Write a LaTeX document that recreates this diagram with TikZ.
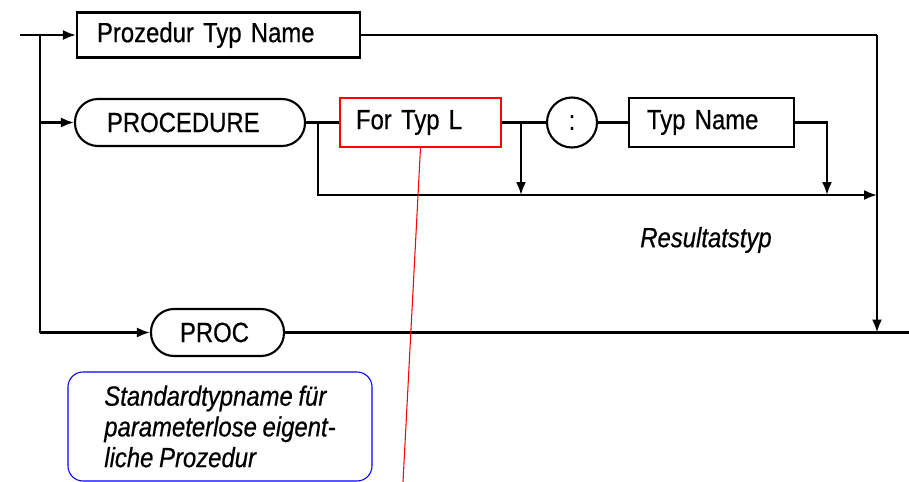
\documentclass[tikz,border=0pt]{standalone}
\usepackage{fontspec}
\setmainfont{Liberation Sans}[FakeStretch=0.86, WordSpace=0.86, FakeBold=0.5]
\usetikzlibrary{arrows.meta,positioning}

\begin{document}
\begin{tikzpicture}[line width=1.2pt,
  every node/.style={font=\fontsize{15.8}{17}\selectfont},
  term/.style={draw, rectangle, inner ysep=0pt, align=left},
  keyw/.style={draw, rectangle, rounded corners=0.46cm, minimum height=0.94cm, inner ysep=0pt, align=left},
  tip/.style={-{Latex[length=0.26cm,width=0.2cm]}}]
  \useasboundingbox (0,0) rectangle (18.18,-9.64);

  % Rails
  \def\xl{0.8}
  \def\xr{17.54}
  \def\yr{-3.9}

  % Boxes
  \node[term, text width=4.86cm, inner xsep=0.4cm, minimum height=0.9cm] (pname) at (4.37,-0.70) {Prozedur Typ Name};
  \node[keyw, text width=3.32cm, inner xsep=0.64cm] (procedure) at (3.8,-2.45) {PROCEDURE};
  \node[term, draw=red, line width=0.8pt, text width=2.58cm, inner xsep=0.32cm, minimum height=0.98cm] (fortyp) at (8.41,-2.45) {For Typ L};
  \node[circle, draw, minimum size=1.0cm, inner sep=0pt] (colon) at (11.44,-2.45) {:};
  \node[term, text width=2.58cm, inner xsep=0.36cm, minimum height=0.98cm] (typname) at (14.23,-2.45) {Typ Name};
  \node[keyw, text width=1.5cm, inner xsep=0.58cm] (proc) at (4.35,-6.65) {PROC};

  % Labels
  \node[font=\fontsize{15.8}{17}\selectfont\itshape] (restyp) at (14.12,-4.8) {Resultatstyp};
  \node[draw=blue, line width=0.6pt, rounded corners=0.3cm, minimum width=6.08cm,
        minimum height=2.18cm, align=left, font=\fontsize{15.8}{17.5}\selectfont\itshape] (note) at (4.4,-8.53)
        {Standardtypname für\\parameterlose eigent-\\liche Prozedur};

  % Junctions
  \coordinate (start) at (0.4,-0.70);
  \coordinate (lsplit) at (\xl,-0.70);
  \coordinate (lproc) at (\xl,-2.45);
  \coordinate (lpr) at (\xl,-6.65);
  \coordinate (rtop) at (\xr,-0.70);
  \coordinate (rbot) at (\xr,-6.65);
  \coordinate (rres) at (\xr,\yr);
  \coordinate (exit) at (18.18,-6.65);
  \coordinate (b1) at (6.36,-2.45);
  \coordinate (b2) at (10.42,-2.45);
  \coordinate (b3) at (16.54,\yr);
  \coordinate (redend) at (8.06,-9.64);

  % Connectors
  \draw[tip] (start) -- (pname);
  \draw (lsplit) -- (lpr);
  \draw[tip] (lproc) -- (procedure);
  \draw[tip] (lpr) -- (proc);
  \draw (pname) -- (rtop);
  \draw[tip] (rtop) -- (rbot);
  \draw (proc) -- (exit);
  \draw (procedure) -- (fortyp);
  \draw[tip] (b1) |- (rres);
  \draw (fortyp) -- (colon);
  \draw[tip] (b2) -- (b2 |- rres);
  \draw (colon) -- (typname);
  \draw[tip] (typname) -| (b3);

  % Red marker
  \draw[red, line width=0.6pt] (fortyp.south) -- (redend);
\end{tikzpicture}
\end{document}
